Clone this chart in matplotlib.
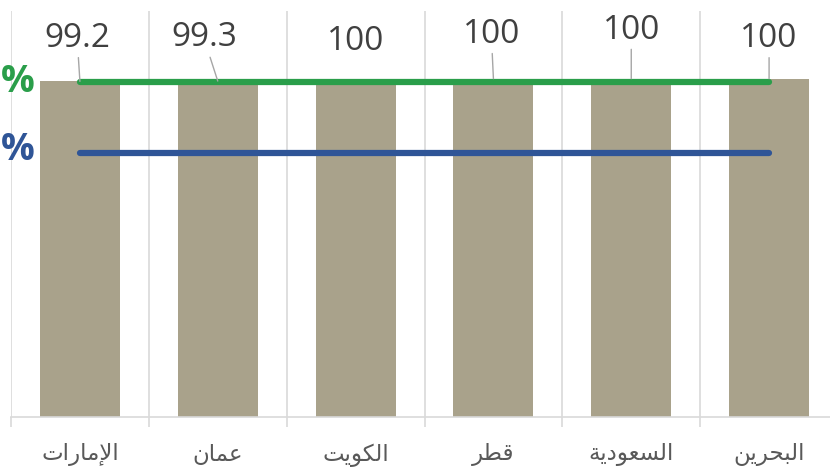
import matplotlib
matplotlib.use("Agg")
import matplotlib.pyplot as plt

# data, right-to-left order as drawn (first item sits at the left)
countries = ["الإمارات", "عمان", "الكويت", "قطر", "السعودية", "البحرين"]
values = [99.2, 99.3, 100, 100, 100, 100]
green_level = 99
blue_level = 78

# label placement relative to bar top, in points (dx, dy) and leader line flag
label_offsets = [(-2, 31), (-10, 31), (0, 27), (-1.5, 32), (0, 35), (0, 29)]
show_leader = [True, True, False, True, True, True]

BAR_COLOR = "#a9a28b"
GREEN = "#2a9e4a"
BLUE = "#2f5597"
GRID = "#d9d9d9"

# --- minimal arabic shaping (matplotlib has no RTL/joining support) ---
FORMS = {
    "ا": (0xFE8D, 0xFE8E, None, None),
    "إ": (0xFE87, 0xFE88, None, None),
    "ر": (0xFEAD, 0xFEAE, None, None),
    "و": (0xFEED, 0xFEEE, None, None),
    "د": (0xFEA9, 0xFEAA, None, None),
    "ة": (0xFE93, 0xFE94, None, None),
    "ب": (0xFE8F, 0xFE90, 0xFE91, 0xFE92),
    "ت": (0xFE95, 0xFE96, 0xFE97, 0xFE98),
    "ح": (0xFEA1, 0xFEA2, 0xFEA3, 0xFEA4),
    "س": (0xFEB1, 0xFEB2, 0xFEB3, 0xFEB4),
    "ط": (0xFEC1, 0xFEC2, 0xFEC3, 0xFEC4),
    "ع": (0xFEC9, 0xFECA, 0xFECB, 0xFECC),
    "ق": (0xFED5, 0xFED6, 0xFED7, 0xFED8),
    "ك": (0xFED9, 0xFEDA, 0xFEDB, 0xFEDC),
    "ل": (0xFEDD, 0xFEDE, 0xFEDF, 0xFEE0),
    "م": (0xFEE1, 0xFEE2, 0xFEE3, 0xFEE4),
    "ن": (0xFEE5, 0xFEE6, 0xFEE7, 0xFEE8),
    "ي": (0xFEF1, 0xFEF2, 0xFEF3, 0xFEF4),
}
LAM_ALEF = {"ا": (0xFEFB, 0xFEFC), "إ": (0xFEF9, 0xFEFA)}


def dual(c):
    return c is not None and FORMS.get(c, (0, 0, None))[2] is not None


def shape_arabic(word):
    out = []
    i = 0
    while i < len(word):
        c = word[i]
        prev = word[i - 1] if i > 0 else None
        joins_prev = dual(prev)
        if c == "ل" and i + 1 < len(word) and word[i + 1] in LAM_ALEF:
            iso, fin = LAM_ALEF[word[i + 1]]
            out.append(chr(fin if joins_prev else iso))
            i += 2
            continue
        nxt = word[i + 1] if i + 1 < len(word) else None
        joins_next = dual(c) and nxt is not None
        iso, fin, ini, med = FORMS[c]
        if joins_prev and joins_next:
            code = med
        elif joins_prev:
            code = fin
        elif joins_next:
            code = ini
        else:
            code = iso
        out.append(chr(code))
        i += 1
    return "".join(reversed(out))


fig = plt.figure(figsize=(8.3, 4.73), dpi=100)
ax = fig.add_axes([11 / 830, 56 / 473, 827 / 830, 406 / 473])

x = list(range(len(countries)))
ax.bar(x, values, width=0.58, color=BAR_COLOR, zorder=2)
ax.plot([x[0], x[-1]], [green_level, green_level], color=GREEN, lw=4.5,
        solid_capstyle="round", zorder=3)
ax.plot([x[0], x[-1]], [blue_level, blue_level], color=BLUE, lw=4.5,
        solid_capstyle="round", zorder=3)

for i, v in enumerate(values):
    label = f"{v:g}"
    arrow = dict(arrowstyle="-", color="#a6a6a6", lw=1, shrinkA=0, shrinkB=0) \
        if show_leader[i] else None
    ax.annotate(label, xy=(i, v), xytext=label_offsets[i],
                textcoords="offset points", ha="center", va="center",
                fontsize=24, family="Open Sans", color="#404040",
                arrowprops=arrow, zorder=4)

ax.set_xlim(-0.5, 5.5)
ax.set_ylim(0, 120)
ax.set_yticks([])
ax.set_xticks(x)
ax.set_xticklabels([shape_arabic(c) for c in countries], family="DejaVu Sans",
                   fontsize=16.5, color="#595959")
ax.tick_params(axis="x", which="major", length=0, pad=19)
ax.set_xticks([i - 0.5 for i in range(len(countries) + 1)], minor=True)
ax.tick_params(axis="x", which="minor", length=7, color=GRID, width=1.2)
ax.grid(axis="x", which="minor", color=GRID, lw=1.2, zorder=0)

for s in ["top", "right", "left"]:
    ax.spines[s].set_visible(False)
ax.spines["bottom"].set_color(GRID)
ax.spines["bottom"].set_linewidth(1.2)

# percent markers at the left edge (cut off in the original crop)
fig.text(1 / 830, 1 - 82 / 473, "%", ha="left", va="center", fontsize=27,
         fontweight="bold", family="Open Sans", color=GREEN)
fig.text(1 / 830, 1 - 150 / 473, "%", ha="left", va="center", fontsize=27,
         fontweight="bold", family="Open Sans", color=BLUE)

fig.savefig("out.png", dpi=100)
